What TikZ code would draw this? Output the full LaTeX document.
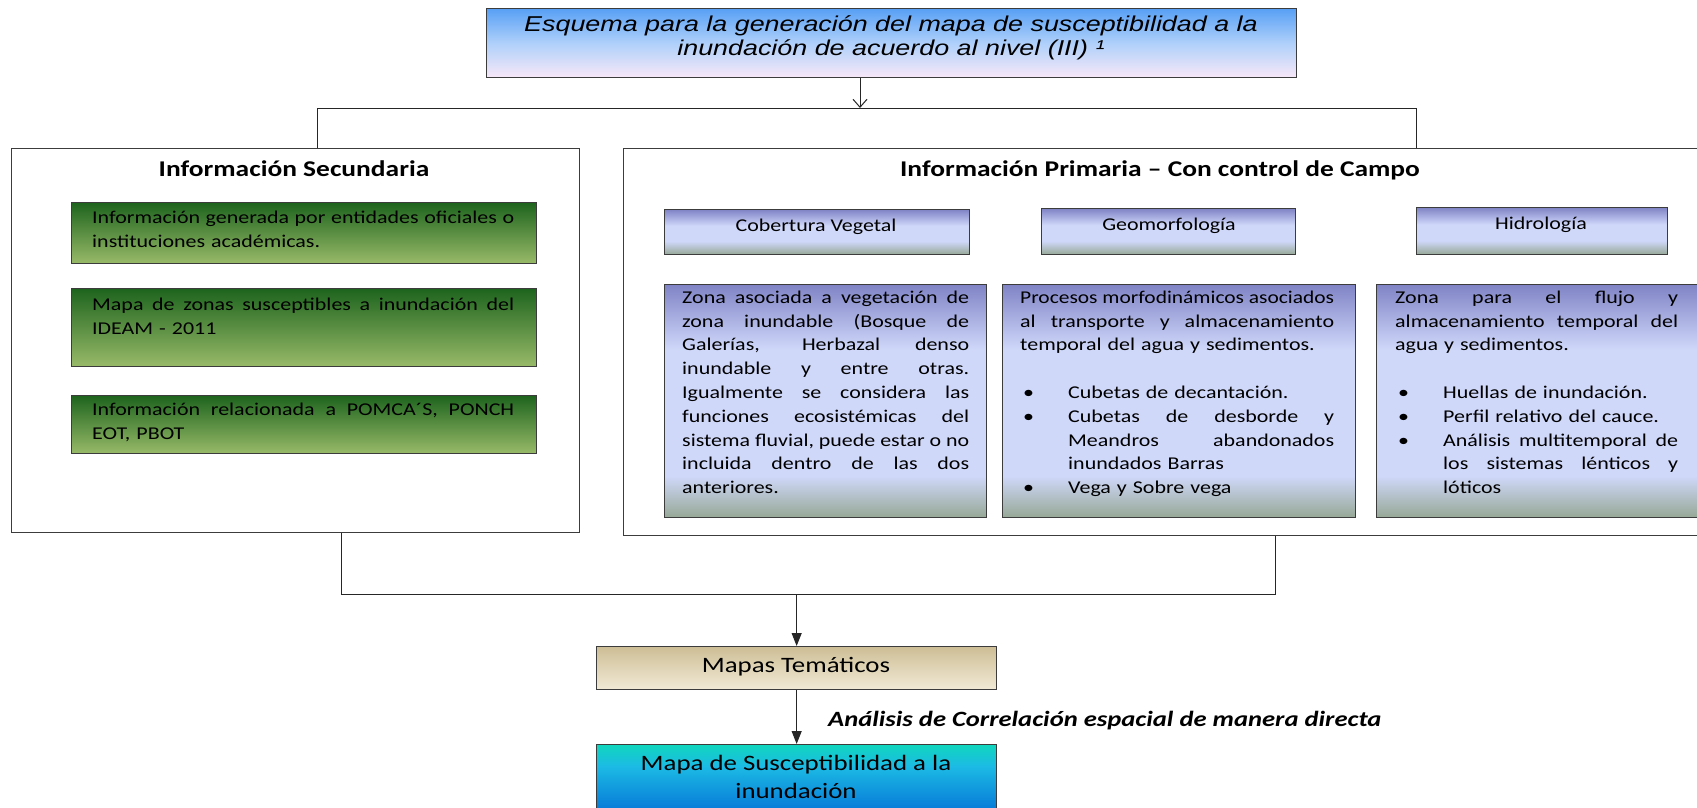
\documentclass[tikz,border=0pt]{standalone}
\usepackage{fontspec}
\usepackage{graphicx}
\usetikzlibrary{arrows.meta}
\setmainfont{Carlito}
\newfontfamily\calfont[FakeStretch=1.22]{Carlito}
\newfontfamily\arifont[FakeStretch=1.25]{Liberation Sans}
\setlength\parindent{0pt}
\definecolor{bordc}{RGB}{60,60,60}
\definecolor{titT}{RGB}{88,160,245}
\definecolor{titM}{RGB}{175,208,250}
\definecolor{titB}{RGB}{248,232,248}
\definecolor{grT}{RGB}{30,100,30}
\definecolor{grB}{RGB}{152,186,104}
\definecolor{lavT}{RGB}{128,132,198}
\definecolor{lavM}{RGB}{208,216,250}
\definecolor{lavB}{RGB}{150,168,150}
\definecolor{mapT}{RGB}{205,190,150}
\definecolor{mapB}{RGB}{242,234,214}
\definecolor{suT}{RGB}{16,214,190}
\definecolor{suM}{RGB}{28,186,228}
\definecolor{suB}{RGB}{4,112,214}
\pgfdeclareverticalshading{titshade}{100bp}{color(0bp)=(titB); color(25bp)=(titB); color(50bp)=(titM); color(75bp)=(titT); color(100bp)=(titT)}
\pgfdeclareverticalshading{lavshade}{100bp}{color(0bp)=(lavB); color(25bp)=(lavB); color(34bp)=(lavM); color(61bp)=(lavM); color(75bp)=(lavT); color(100bp)=(lavT)}
\pgfdeclareverticalshading{hdrshade}{100bp}{color(0bp)=(lavB); color(25bp)=(lavB); color(40bp)=(lavM); color(57bp)=(lavM); color(75bp)=(lavT); color(100bp)=(lavT)}
\pgfdeclareverticalshading{sushade}{100bp}{color(0bp)=(suB); color(25bp)=(suB); color(60bp)=(suM); color(75bp)=(suT); color(100bp)=(suT)}
\newsavebox\jlbox
\newlength\jlw
\newcommand\jl[2][\hsize]{\setlength\jlw{#1}\sbox\jlbox{\spaceskip=0pt\xspaceskip=0pt\relax#2}\ifdim\wd\jlbox>\jlw\resizebox{\jlw}{\height}{\usebox\jlbox}\else\makebox[\jlw][s]{\spaceskip=0pt\xspaceskip=0pt\relax#2}\fi}
\newcommand\bli{\makebox[48pt][l]{\hspace*{3pt}\textbullet}}
\newcommand\bpl[1]{\bli#1}
\newcommand\bjl[1]{\bli\jl[\dimexpr\hsize-48pt\relax]{#1}}
\newcommand\ijl[1]{\hspace*{48pt}\jl[\dimexpr\hsize-48pt\relax]{#1}}
\newcommand\ipl[1]{\hspace*{48pt}#1}
\newcommand\fl{\rule{0pt}{16pt}}
\begin{document}
\begin{tikzpicture}[x=1pt,y=-1pt,
  box/.style={draw=bordc, line width=1.3pt, inner sep=0pt, anchor=north west},
  outer/.style={draw=bordc, line width=1.3pt, inner sep=0pt, anchor=north west, fill=white},
  greenbox/.style={box, top color=grT, bottom color=grB},
  lavbox/.style={box, shading=lavshade},
  hdrbox/.style={box, shading=hdrshade},
  txt/.style={anchor=north west, inner sep=0pt, align=left, font={\calfont\fontsize{18}{23.8}\selectfont}},
  hdr/.style={anchor=base, inner sep=0pt, font={\calfont\fontsize{18}{22}\selectfont}},
  sect/.style={anchor=base, inner sep=0pt, font={\calfont\bfseries\fontsize{22.5}{26}\selectfont}},
  conn/.style={draw=black!85, line width=1pt},
  openarrow/.style={conn, -{Straight Barb[length=8pt,width=14pt]}},
  filledarrow/.style={conn, -{Triangle[length=13pt,width=10pt]}}
]
\useasboundingbox (0,0) rectangle (1697,808);
\fill[white] (0,0) rectangle (1697,808);

% title
\node[box, shading=titshade, minimum width=810pt, minimum height=69pt] (title) at (486,8) {};
\node[anchor=north, inner sep=0pt, align=center, font={\arifont\itshape\fontsize{21.5}{24}\selectfont}] (titletxt) at (891,13)
  {\rule{0pt}{18pt}Esquema para la generación del mapa de susceptibilidad a la\\inundación de acuerdo al nivel (III) ¹};

% outer boxes
\node[outer, minimum width=568pt, minimum height=384pt] (sec) at (11,148) {};
\node[outer, minimum width=1077pt, minimum height=387pt] (prim) at (623,148) {};
\node[sect] (sectxt) at (294,176) {Información Secundaria};
\node[sect] (primtxt) at (1160,176) {Información Primaria – Con control de Campo};

% green boxes
\node[greenbox, minimum width=465pt, minimum height=61pt] (g1) at (71,202) {};
\node[greenbox, minimum width=465pt, minimum height=78pt] (g2) at (71,288) {};
\node[greenbox, minimum width=465pt, minimum height=58pt] (g3) at (71,395) {};
\node[txt, text width=422pt] (g1t) at (92,207) {\fl\jl{Información generada por entidades oficiales o}\\instituciones académicas.};
\node[txt, text width=422pt] (g2t) at (92,294) {\fl\jl{Mapa de zonas susceptibles a inundación del}\\IDEAM - 2011};
\node[txt, text width=422pt] (g3t) at (92,399) {\fl\jl{Información relacionada a POMCA´S, PONCH}\\EOT, PBOT};

% header boxes
\node[hdrbox, minimum width=305pt, minimum height=45pt] (h1) at (664,209) {};
\node[hdrbox, minimum width=254pt, minimum height=46pt] (h2) at (1041,208) {};
\node[hdrbox, minimum width=251pt, minimum height=47pt] (h3) at (1416,207) {};
\node[hdr] (h1t) at (816,231) {Cobertura Vegetal};
\node[hdr] (h2t) at (1169,230) {Geomorfología};
\node[hdr] (h3t) at (1541,229) {Hidrología};

% big boxes
\node[lavbox, minimum width=322pt, minimum height=233pt] (ba) at (664,284) {};
\node[lavbox, minimum width=353pt, minimum height=233pt] (bb) at (1002,284) {};
\node[lavbox, minimum width=323pt, minimum height=233pt] (bc) at (1376,284) {};
\node[txt, text width=287pt] (bat) at (682,287) {\fl\jl{Zona asociada a vegetación de}\\
\jl{zona inundable (Bosque de}\\
\jl{Galerías, Herbazal denso}\\
\jl{inundable y entre otras.}\\
\jl{Igualmente se considera las}\\
\jl{funciones ecosistémicas del}\\
\jl{sistema fluvial, puede estar o no}\\
\jl{incluida dentro de las dos}\\
anteriores.};
\node[txt, text width=314pt] (bbt) at (1020,287) {\fl\jl{Procesos morfodinámicos asociados}\\
\jl{al transporte y almacenamiento}\\
temporal del agua y sedimentos.\\[23.8pt]
\bpl{Cubetas de decantación.}\\
\bjl{Cubetas de desborde y}\\
\ijl{Meandros abandonados}\\
\ipl{inundados Barras}\\
\bpl{Vega y Sobre vega}};
\node[txt, text width=283pt] (bct) at (1395,287) {\fl\jl{Zona para el flujo y}\\
\jl{almacenamiento temporal del}\\
agua y sedimentos.\\[23.8pt]
\bpl{Huellas de inundación.}\\
\bpl{Perfil relativo del cauce.}\\
\bjl{Análisis multitemporal de}\\
\ijl{los sistemas lénticos y}\\
\ipl{lóticos}};

% bottom boxes
\node[box, top color=mapT, bottom color=mapB, minimum width=400pt, minimum height=43pt] (mapas) at (596,646) {};
\node[anchor=base, inner sep=0pt, font={\calfont\fontsize{22}{28}\selectfont}] (mapastxt) at (796,672) {Mapas Temáticos};
\node[box, shading=sushade, minimum width=400pt, minimum height=72pt] (susc) at (596,744) {};
\node[anchor=north, inner sep=0pt, align=center, font={\calfont\fontsize{22}{28}\selectfont}] (susctxt) at (796,752)
  {\rule{0pt}{18pt}Mapa de Susceptibilidad a la\\inundación};

% connectors
\coordinate (ta) at (860,108);
\coordinate (tl) at (317,108);
\coordinate (tr) at (1416,108);
\draw[openarrow] (title.south -| ta) -- (ta);
\draw[conn] (sec.north -| tl) -- (tl) -- (tr) -- (prim.north -| tr);
\coordinate (bl) at (341,594);
\coordinate (br) at (1275,594);
\draw[conn] (sec.south -| bl) -- (bl) -- (br) -- (prim.south -| br);
\draw[filledarrow] (mapas.north |- bl) -- (mapas.north);
\draw[filledarrow] (mapas.south) -- (susc.north);
\node[anchor=base west, inner sep=0pt, font={\calfont\bfseries\itshape\fontsize{21.8}{24}\selectfont}] (lab) at (828,726)
  {Análisis de Correlación espacial de manera directa};
\end{tikzpicture}
\end{document}
